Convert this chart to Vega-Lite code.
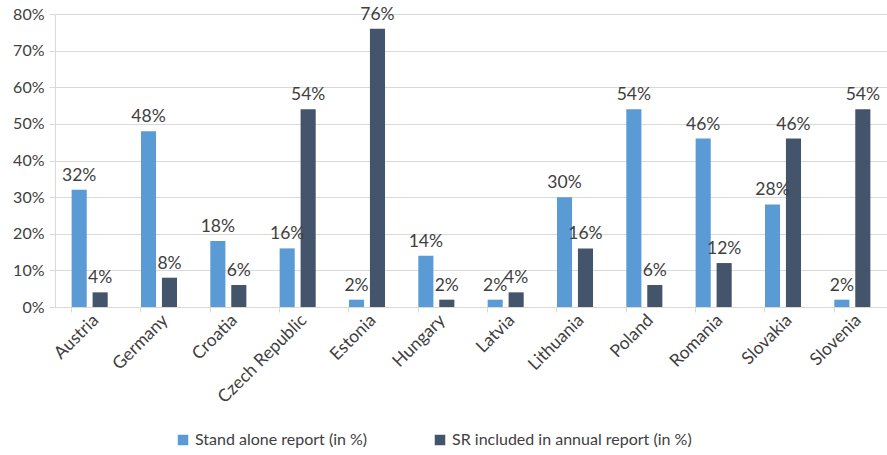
{
  "$schema": "https://vega.github.io/schema/vega-lite/v6.json",
  "width": 832,
  "height": 293,
  "autosize": {"type": "none"},
  "padding": {"left": 55, "top": 14, "right": 0, "bottom": 148},
  "config": {
    "font": "Lato",
    "view": {"stroke": null},
    "axis": {
      "labelFont": "Lato",
      "labelFontSize": 16,
      "labelColor": "#404040",
      "domainColor": "#d9d9d9",
      "tickColor": "#d9d9d9",
      "gridColor": "#d9d9d9",
      "title": null
    }
  },
  "data": {
    "values": [
      {"country": "Austria", "series": "Stand alone report (in %)", "share": 0.32},
      {"country": "Austria", "series": "SR included in annual report (in %)", "share": 0.04},
      {"country": "Germany", "series": "Stand alone report (in %)", "share": 0.48},
      {"country": "Germany", "series": "SR included in annual report (in %)", "share": 0.08},
      {"country": "Croatia", "series": "Stand alone report (in %)", "share": 0.18},
      {"country": "Croatia", "series": "SR included in annual report (in %)", "share": 0.06},
      {"country": "Czech Republic", "series": "Stand alone report (in %)", "share": 0.16},
      {"country": "Czech Republic", "series": "SR included in annual report (in %)", "share": 0.54},
      {"country": "Estonia", "series": "Stand alone report (in %)", "share": 0.02},
      {"country": "Estonia", "series": "SR included in annual report (in %)", "share": 0.76},
      {"country": "Hungary", "series": "Stand alone report (in %)", "share": 0.14},
      {"country": "Hungary", "series": "SR included in annual report (in %)", "share": 0.02},
      {"country": "Latvia", "series": "Stand alone report (in %)", "share": 0.02},
      {"country": "Latvia", "series": "SR included in annual report (in %)", "share": 0.04},
      {"country": "Lithuania", "series": "Stand alone report (in %)", "share": 0.30},
      {"country": "Lithuania", "series": "SR included in annual report (in %)", "share": 0.16},
      {"country": "Poland", "series": "Stand alone report (in %)", "share": 0.54},
      {"country": "Poland", "series": "SR included in annual report (in %)", "share": 0.06},
      {"country": "Romania", "series": "Stand alone report (in %)", "share": 0.46},
      {"country": "Romania", "series": "SR included in annual report (in %)", "share": 0.12},
      {"country": "Slovakia", "series": "Stand alone report (in %)", "share": 0.28},
      {"country": "Slovakia", "series": "SR included in annual report (in %)", "share": 0.46},
      {"country": "Slovenia", "series": "Stand alone report (in %)", "share": 0.02},
      {"country": "Slovenia", "series": "SR included in annual report (in %)", "share": 0.54}
    ]
  },
  "encoding": {
    "x": {
      "field": "country",
      "type": "nominal",
      "sort": null,
      "scale": {"paddingInner": 0.48, "paddingOuter": 0.24}
    },
    "xOffset": {
      "field": "series",
      "type": "nominal",
      "sort": null,
      "scale": {"paddingInner": 0.28, "paddingOuter": 0}
    },
    "y": {
      "field": "share",
      "type": "quantitative",
      "scale": {"domain": [0, 0.8]},
      "axis": {
        "values": [0, 0.1, 0.2, 0.3, 0.4, 0.5, 0.6, 0.7, 0.8],
        "format": ".0%",
        "tickSize": 6,
        "labelPadding": 5
      }
    }
  },
  "layer": [
    {
      "mark": {"type": "bar"},
      "encoding": {
        "x": {
          "field": "country",
          "type": "nominal",
          "sort": null,
          "axis": {
            "labelAngle": -45,
            "labelAlign": "right",
            "labelBaseline": "top",
            "labelFontSize": 17.5,
            "labelPadding": 4,
            "labelLimit": 0,
            "ticks": false,
            "grid": false
          }
        },
        "color": {
          "field": "series",
          "type": "nominal",
          "sort": null,
          "scale": {
            "domain": ["Stand alone report (in %)", "SR included in annual report (in %)"],
            "range": ["#5B9BD5", "#44546A"]
          },
          "legend": {
            "orient": "none",
            "legendX": 120,
            "legendY": 418,
            "direction": "horizontal",
            "title": null,
            "symbolType": "square",
            "symbolSize": 110,
            "symbolStrokeWidth": 0,
            "labelFont": "Lato",
            "labelFontSize": 16,
            "labelLimit": 0,
            "labelColor": "#404040",
            "columnPadding": 64
          }
        }
      }
    },
    {
      "mark": {"type": "text", "baseline": "bottom", "dy": -5, "fontSize": 17.5, "color": "#404040"},
      "encoding": {
        "x": {
          "field": "country",
          "type": "nominal",
          "sort": null,
          "axis": {
            "orient": "bottom",
            "bandPosition": 0,
            "labels": false,
            "domain": false,
            "grid": false,
            "ticks": true,
            "tickSize": 5
          }
        },
        "text": {"field": "share", "type": "quantitative", "format": ".0%"}
      }
    }
  ],
  "resolve": {"axis": {"x": "independent"}}
}
